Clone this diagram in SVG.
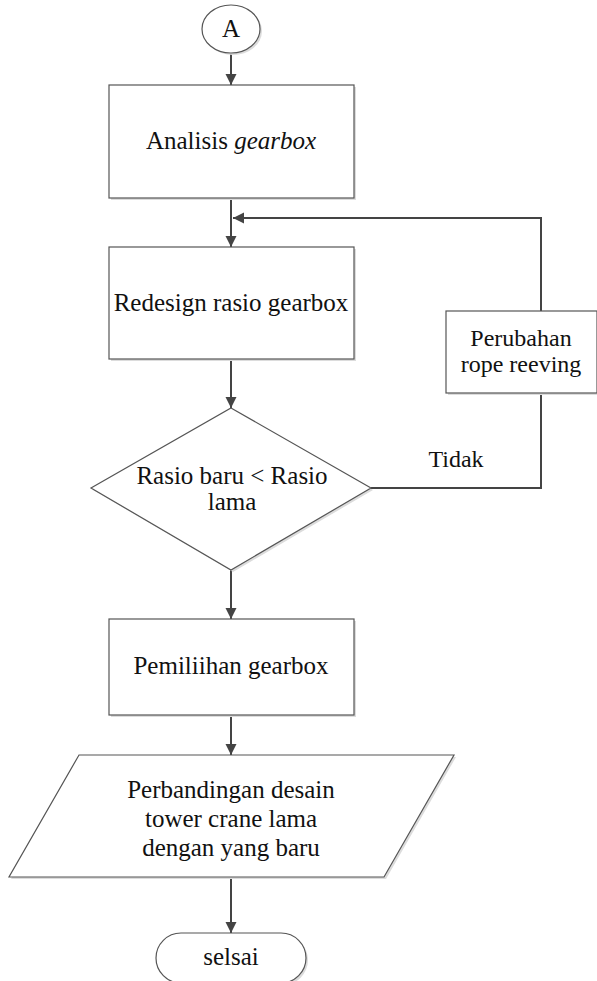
<svg xmlns="http://www.w3.org/2000/svg" width="597" height="981" viewBox="0 0 597 981">
<defs>
<style>
.shape{fill:#ffffff;stroke:#555555;stroke-width:1.2}
.shadow{fill:#dcdcdc;stroke:none}
.t{font-family:"Liberation Serif","Times New Roman",serif;font-size:25px;fill:#111111;text-anchor:middle}
.s{font-size:24px}
.conn{fill:none;stroke:#444444;stroke-width:2}
</style>
<marker id="arr" viewBox="0 0 10 10" refX="10" refY="5" markerWidth="5.5" markerHeight="6" markerUnits="strokeWidth" orient="auto">
<path d="M0,0 L10,5 L0,10 z" fill="#444444"/>
</marker>
</defs>
<rect width="597" height="981" fill="#ffffff"/>

<g id="connectors">
<line class="conn" x1="231" y1="53" x2="231" y2="85" marker-end="url(#arr)"/>
<line class="conn" x1="231" y1="198" x2="231" y2="247" marker-end="url(#arr)"/>
<polyline class="conn" points="371,488 541,488 541,393"/>
<polyline class="conn" points="541,311 541,218 233,218" marker-end="url(#arr)"/>
<line class="conn" x1="231" y1="359" x2="231" y2="408" marker-end="url(#arr)"/>
<line class="conn" x1="231" y1="570" x2="231" y2="619" marker-end="url(#arr)"/>
<line class="conn" x1="231" y1="715" x2="231" y2="755" marker-end="url(#arr)"/>
<line class="conn" x1="231" y1="877" x2="231" y2="933" marker-end="url(#arr)"/>
<text class="t s" x="456" y="467">Tidak</text>
</g>

<g id="start">
<ellipse class="shadow" cx="233" cy="31" rx="29" ry="24"/>
<ellipse class="shape" cx="231" cy="29" rx="29" ry="24"/>
<text class="t" x="231" y="37">A</text>
</g>

<g id="analisis">
<rect class="shadow" x="111" y="87" width="245" height="113"/>
<rect class="shape" x="109" y="85" width="245" height="113"/>
<text class="t" x="231" y="149">Analisis <tspan font-style="italic">gearbox</tspan></text>
</g>

<g id="redesign">
<rect class="shadow" x="111" y="249" width="245" height="112"/>
<rect class="shape" x="109" y="247" width="245" height="112"/>
<text class="t" x="231" y="311">Redesign rasio gearbox</text>
</g>

<g id="decision">
<polygon class="shadow" points="233,410 373,490 233,572 93,490"/>
<polygon class="shape" points="231,408 371,488 231,570 91,488"/>
<text class="t" x="232" y="484">Rasio baru &lt; Rasio</text>
<text class="t" x="232" y="510">lama</text>
</g>

<g id="perubahan">
<rect class="shadow" x="448" y="313" width="151" height="82"/>
<rect class="shape" x="446" y="311" width="151" height="82"/>
<text class="t s" x="521" y="346">Perubahan</text>
<text class="t s" x="521" y="372">rope reeving</text>
</g>

<g id="pemilihan">
<rect class="shadow" x="111" y="621" width="245" height="96"/>
<rect class="shape" x="109" y="619" width="245" height="96"/>
<text class="t" x="231" y="674">Pemiliihan gearbox</text>
</g>

<g id="perbandingan">
<polygon class="shadow" points="81,757 456,757 386,879 11,879"/>
<polygon class="shape" points="79,755 454,755 384,877 9,877"/>
<text class="t" x="231" y="798">Perbandingan desain</text>
<text class="t" x="231" y="827">tower crane lama</text>
<text class="t" x="231" y="856">dengan yang baru</text>
</g>

<g id="selesai">
<rect class="shadow" x="158" y="935" width="150" height="50" rx="25"/>
<rect class="shape" x="156" y="933" width="150" height="50" rx="25"/>
<text class="t" x="231" y="965">selsai</text>
</g>
</svg>
